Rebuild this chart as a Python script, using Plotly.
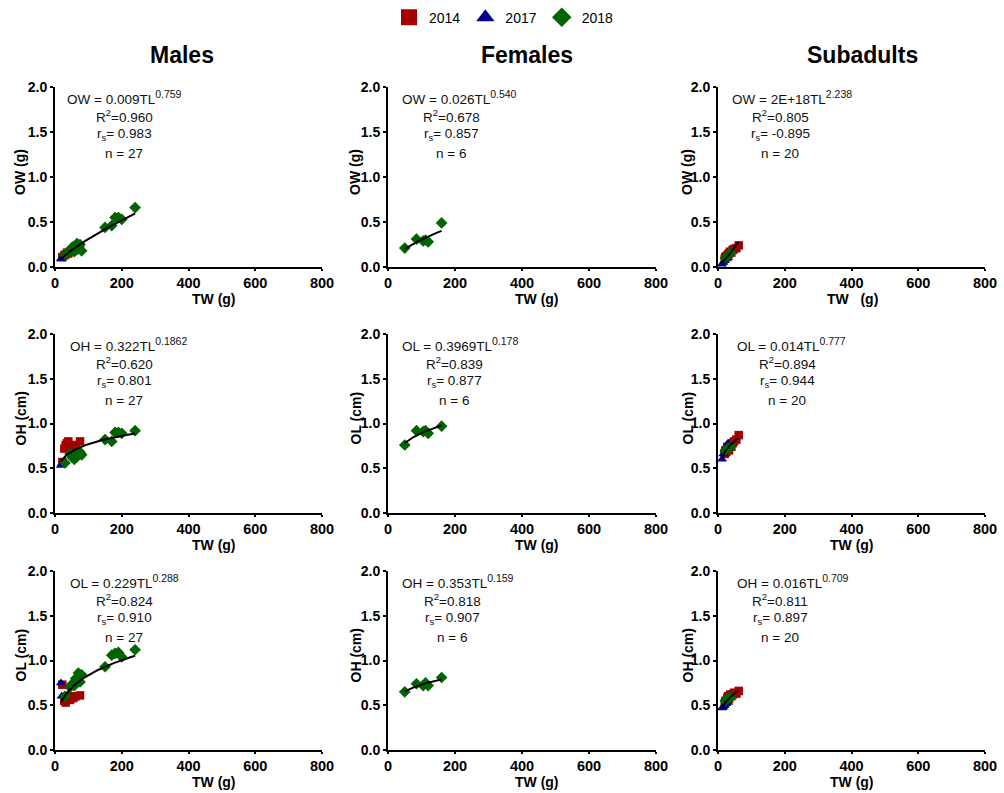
import numpy as np
import plotly.graph_objects as go

# ---------------- data ----------------
years = ["2014", "2017", "2018"]
colors = {"2014": "#A30000", "2017": "#00008C", "2018": "#006400"}
symbols = {"2014": "square", "2017": "triangle-up", "2018": "diamond"}

# Males
m_tw_2014 = [22, 28, 32, 36, 40, 45, 50, 55, 62, 75]
m_tw_2017 = [18, 20]
m_tw_2018 = [30, 45, 52, 58, 62, 66, 70, 75, 80, 150, 170, 180, 190, 200, 240]
m_ow_2014 = [0.11, 0.13, 0.14, 0.16, 0.15, 0.17, 0.18, 0.19, 0.20, 0.22]
m_ow_2017 = [0.09, 0.10]
m_ow_2018 = [0.14, 0.18, 0.22, 0.17, 0.24, 0.26, 0.20, 0.25, 0.18, 0.44, 0.46, 0.55, 0.55, 0.53, 0.66]
m_oh_2014 = [0.57, 0.72, 0.76, 0.78, 0.80, 0.74, 0.76, 0.75, 0.72, 0.80]
m_oh_2017 = [0.53, 0.55]
m_oh_2018 = [0.56, 0.66, 0.62, 0.60, 0.64, 0.63, 0.66, 0.68, 0.65, 0.82, 0.80, 0.90, 0.90, 0.89, 0.92]
m_ol_2014 = [0.73, 0.55, 0.53, 0.58, 0.60, 0.56, 0.60, 0.58, 0.60, 0.61]
m_ol_2017 = [0.75, 0.60]
m_ol_2018 = [0.60, 0.70, 0.74, 0.72, 0.80, 0.78, 0.86, 0.76, 0.84, 0.93, 1.06, 1.08, 1.09, 1.04, 1.12]

# Females (2018 only)
f_tw_2018 = [50, 85, 105, 112, 120, 160]
f_ow_2018 = [0.21, 0.31, 0.29, 0.30, 0.28, 0.49]
f_ol_2018 = [0.76, 0.92, 0.91, 0.92, 0.89, 0.97]
f_oh_2018 = [0.65, 0.74, 0.72, 0.75, 0.72, 0.81]

# Subadults
s_tw_2014 = [20, 22, 25, 28, 30, 33, 36, 40, 44, 48, 55, 62]
s_tw_2017 = [12, 16, 20, 24, 30]
s_tw_2018 = [22, 30, 38]
s_ow_2014 = [0.09, 0.11, 0.12, 0.12, 0.14, 0.15, 0.17, 0.16, 0.19, 0.20, 0.21, 0.24]
s_ow_2017 = [0.03, 0.05, 0.07, 0.09, 0.10]
s_ow_2018 = [0.10, 0.13, 0.16]
s_ol_2014 = [0.66, 0.70, 0.68, 0.74, 0.72, 0.70, 0.76, 0.74, 0.78, 0.80, 0.82, 0.87]
s_ol_2017 = [0.60, 0.66, 0.70, 0.74, 0.78]
s_ol_2018 = [0.70, 0.72, 0.74]
s_oh_2014 = [0.52, 0.55, 0.54, 0.58, 0.60, 0.57, 0.62, 0.60, 0.62, 0.64, 0.63, 0.66]
s_oh_2017 = [0.47, 0.48, 0.50, 0.52, 0.53]
s_oh_2018 = [0.55, 0.58, 0.59]

col_titles = ["Males", "Females", "Subadults"]
x_ticks = [0, 200, 400, 600, 800]
y_ticks = [0.0, 0.5, 1.0, 1.5, 2.0]

SUP = "<sup><span style='font-size:10.5px'>{}</span></sup>"

# panel: (row, col, ytitle, xtitle, {year: (x, y)}, [equation, R2, rs, n])
panels = [
    (0, 0, "OW (g)", "TW (g)",
     {"2014": (m_tw_2014, m_ow_2014), "2017": (m_tw_2017, m_ow_2017), "2018": (m_tw_2018, m_ow_2018)},
     ["OW = 0.009TL" + SUP.format("0.759"), "R<sup>2</sup>=0.960", "r<sub>s</sub>= 0.983", "n = 27"]),
    (0, 1, "OW (g)", "TW (g)", {"2018": (f_tw_2018, f_ow_2018)},
     ["OW = 0.026TL" + SUP.format("0.540"), "R<sup>2</sup>=0.678", "r<sub>s</sub>= 0.857", "n = 6"]),
    (0, 2, "OW (g)", "TW   (g)",
     {"2014": (s_tw_2014, s_ow_2014), "2017": (s_tw_2017, s_ow_2017), "2018": (s_tw_2018, s_ow_2018)},
     ["OW = 2E+18TL" + SUP.format("2.238"), "R<sup>2</sup>=0.805", "r<sub>s</sub>= -0.895", "n = 20"]),
    (1, 0, "OH (cm)", "TW (g)",
     {"2014": (m_tw_2014, m_oh_2014), "2017": (m_tw_2017, m_oh_2017), "2018": (m_tw_2018, m_oh_2018)},
     ["OH = 0.322TL" + SUP.format("0.1862"), "R<sup>2</sup>=0.620", "r<sub>s</sub>= 0.801", "n = 27"]),
    (1, 1, "OL (cm)", "TW (g)", {"2018": (f_tw_2018, f_ol_2018)},
     ["OL = 0.3969TL" + SUP.format("0.178"), "R<sup>2</sup>=0.839", "r<sub>s</sub>= 0.877", "n = 6"]),
    (1, 2, "OL (cm)", "TW (g)",
     {"2014": (s_tw_2014, s_ol_2014), "2017": (s_tw_2017, s_ol_2017), "2018": (s_tw_2018, s_ol_2018)},
     ["OL = 0.014TL" + SUP.format("0.777"), "R<sup>2</sup>=0.894", "r<sub>s</sub>= 0.944", "n = 20"]),
    (2, 0, "OL (cm)", "TW (g)",
     {"2014": (m_tw_2014, m_ol_2014), "2017": (m_tw_2017, m_ol_2017), "2018": (m_tw_2018, m_ol_2018)},
     ["OL = 0.229TL" + SUP.format("0.288"), "R<sup>2</sup>=0.824", "r<sub>s</sub>= 0.910", "n = 27"]),
    (2, 1, "OH (cm)", "TW (g)", {"2018": (f_tw_2018, f_oh_2018)},
     ["OH = 0.353TL" + SUP.format("0.159"), "R<sup>2</sup>=0.818", "r<sub>s</sub>= 0.907", "n = 6"]),
    (2, 2, "OH (cm)", "TW (g)",
     {"2014": (s_tw_2014, s_oh_2014), "2017": (s_tw_2017, s_oh_2017), "2018": (s_tw_2018, s_oh_2018)},
     ["OH = 0.016TL" + SUP.format("0.709"), "R<sup>2</sup>=0.811", "r<sub>s</sub>= 0.897", "n = 20"]),
]

# ---------------- layout geometry (pixels) ----------------
W, H = 1004, 793
col_px = [(55, 322), (388, 656), (718, 985)]
row_px = [(87, 267), (334, 513), (571, 750)]  # (top, bottom)
eq_left = {(0, 0): 65, (1, 0): 68, (2, 0): 68, (0, 1): 400, (1, 1): 400, (2, 1): 400,
           (0, 2): 730, (1, 2): 735, (2, 2): 735}
stat_cx = {(0, 0): 124, (1, 0): 124, (2, 0): 124, (0, 1): 451, (1, 1): 454, (2, 1): 452,
           (0, 2): 780, (1, 2): 787, (2, 2): 780}
line_dy = [10, 29, 47, 66]
xtitle_cx = [214, 537, 852]
xtitle_dy = [32, 32, 32]
ytitle_dx = [35, 33, 31]

fig = go.Figure()
FONT = "Liberation Sans, Arial, sans-serif"
layout = dict(
    width=W, height=H, margin=dict(l=0, r=0, t=0, b=0, autoexpand=False),
    paper_bgcolor="white", plot_bgcolor="white",
    font=dict(family=FONT, color="black"),
    showlegend=True,
    legend=dict(orientation="h", x=0.502, xanchor="center", y=0.998, yanchor="top",
                font=dict(size=14, family=FONT), itemwidth=30, tracegroupgap=0,
                bgcolor="rgba(0,0,0,0)"),
)
annotations = []
def px_x(v):
    return v / W
def px_y(v):
    return 1 - v / H

for i, (r, c, ytitle, xtitle, series, stats) in enumerate(panels):
    idx = "" if i == 0 else str(i + 1)
    xa, ya = "x" + idx, "y" + idx
    x0, x1 = col_px[c]
    top, bot = row_px[r]
    layout["xaxis" + idx] = dict(
        domain=[px_x(x0), px_x(x1)], anchor=ya, range=[0, 800], tickvals=x_ticks,
        showgrid=False, zeroline=False, showline=True, linecolor="black", linewidth=2,
        ticks="outside", ticklen=2, tickwidth=2, tickcolor="black", automargin=False,
        tickfont=dict(size=14.5, family=FONT, weight="bold"),
    )
    layout["yaxis" + idx] = dict(
        domain=[px_y(bot), px_y(top)], anchor=xa, range=[0, 2.0], tickvals=y_ticks,
        tickformat=".1f", automargin=False,
        showgrid=False, zeroline=False, showline=True, linecolor="black", linewidth=2,
        ticks="outside", ticklen=3, tickwidth=2, tickcolor="black",
        tickfont=dict(size=14, family=FONT, weight="bold"),
    )
    allx, ally = [], []
    for yr in years:
        if yr not in series:
            continue
        xs, ys = series[yr]
        allx += xs
        ally += ys
        fig.add_trace(go.Scatter(
            x=xs, y=ys, mode="markers", xaxis=xa, yaxis=ya, showlegend=False,
            marker=dict(symbol=symbols[yr], color=colors[yr],
                        size={"2014": 8.5, "2017": 9, "2018": 9}[yr], line=dict(width=0)),
        ))
    # power-law fit y = a * x^b (log-log least squares)
    b, loga = np.polyfit(np.log(allx), np.log(ally), 1)
    xf = np.linspace(min(allx), max(allx), 60)
    yf = np.exp(loga) * xf ** b
    fig.add_trace(go.Scatter(x=xf, y=yf, mode="lines", xaxis=xa, yaxis=ya,
                             showlegend=False, line=dict(color="black", width=2)))
    # stats text
    for k, txt in enumerate(stats):
        if k == 0:
            xx, anc = eq_left[(r, c)], "left"
        else:
            xx, anc = stat_cx[(r, c)], "center"
        annotations.append(dict(
            xref="paper", yref="paper", x=px_x(xx), y=px_y(top + line_dy[k]),
            xanchor=anc, yanchor="middle", text=txt, showarrow=False,
            font=dict(size=13.5, family=FONT, color="#111111"),
        ))
    # axis titles
    annotations.append(dict(
        xref="paper", yref="paper", x=px_x(xtitle_cx[c]), y=px_y(bot + xtitle_dy[c]),
        xanchor="center", yanchor="middle", text=xtitle, showarrow=False,
        font=dict(size=14, family=FONT, weight="bold"),
    ))
    annotations.append(dict(
        xref="paper", yref="paper", x=px_x(x0 - ytitle_dx[c]), y=px_y((top + bot) / 2 - 5),
        xanchor="center", yanchor="middle", text=ytitle, showarrow=False, textangle=-90,
        font=dict(size=14, family=FONT, weight="bold"),
    ))

# column titles
title_x = [182, 527, 862]
for t, tx in zip(col_titles, title_x):
    annotations.append(dict(
        xref="paper", yref="paper", x=px_x(tx), y=px_y(55), xanchor="center", yanchor="middle",
        text=t, showarrow=False, font=dict(size=23, family=FONT, weight="bold"),
    ))

# legend-only entries
leg_size = {"2014": 17, "2017": 17, "2018": 15}
for yr in years:
    fig.add_trace(go.Scatter(
        x=[None], y=[None], mode="markers", name=yr, showlegend=True,
        marker=dict(symbol=symbols[yr], color=colors[yr], size=leg_size[yr]),
    ))

layout["annotations"] = annotations
fig.update_layout(**layout)
fig.write_html("out.html", config={"displayModeBar": False},
               post_script="document.body.style.margin='0px';document.body.style.padding='0px';")
